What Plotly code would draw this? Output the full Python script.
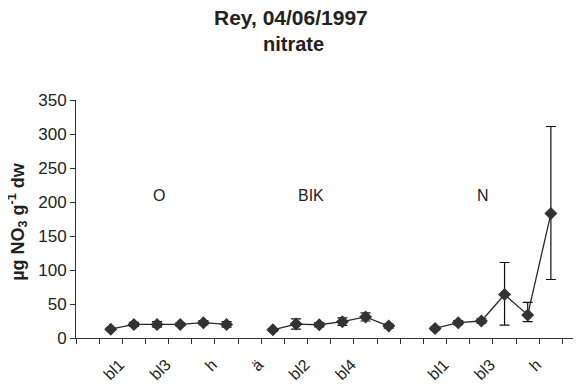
import plotly.graph_objects as go

# ---- data ----
groups = ["O", "BIK", "N"]
tick_labels = ["bl1", "bl3", "h", "ä", "bl2", "bl4", " ", "bl1", "bl3", "h"]

o_pos = [1, 2, 3, 4, 5, 6]
o_val = [13, 20, 20, 20, 22.5, 20]
o_err_plus = [2, 3, 4, 2, 3, 4]
o_err_minus = [2, 3, 4, 2, 3, 4]

bik_pos = [8, 9, 10, 11, 12, 13]
bik_val = [12, 20.5, 19.5, 24, 31, 17.5]
bik_err_plus = [2, 7.5, 3, 5.5, 6, 3]
bik_err_minus = [2, 7.5, 3, 5.5, 6, 3]

n_pos = [15, 16, 17, 18, 19, 20]
n_val = [14, 22.5, 25, 64, 34, 183]
n_err_plus = [2, 3, 3, 47, 18.5, 128]
n_err_minus = [2, 3, 3, 45, 10, 97]

n_categories = 22

FONT = "Arial, Liberation Sans, sans-serif"
DARK = "#2a2a2a"

fig = go.Figure()
for pos, val, ep, em in [
    (o_pos, o_val, o_err_plus, o_err_minus),
    (bik_pos, bik_val, bik_err_plus, bik_err_minus),
    (n_pos, n_val, n_err_plus, n_err_minus),
]:
    fig.add_trace(go.Scatter(
        x=pos, y=val, mode="lines+markers",
        line=dict(color=DARK, width=1.3),
        marker=dict(symbol="diamond", size=10, color="#333333"),
        error_y=dict(type="data", symmetric=False, array=ep, arrayminus=em,
                     color="#111111", thickness=1.2, width=5),
        showlegend=False,
    ))

label_vals = list(range(1, n_categories, 2))[:len(tick_labels)]
boundaries = [i - 0.5 for i in range(n_categories + 1)]

# page body has an 8px default margin; margins compensate for it
fig.update_layout(
    width=581, height=385,
    margin=dict(l=68, r=8, t=92, b=55, autoexpand=False),
    paper_bgcolor="white", plot_bgcolor="white",
    font=dict(family=FONT, size=16, color="#222"),
    xaxis=dict(
        range=[-0.5, 21.3], showline=True, linecolor="#333", linewidth=1,
        showgrid=False, zeroline=False, automargin=False,
        tickmode="array", tickvals=label_vals, ticktext=tick_labels,
        ticks="", tickangle=-45, tickfont=dict(size=16),
        ticklabelstandoff=10, ticklabelshift=9,
        minor=dict(tickmode="array", tickvals=boundaries, ticks="outside",
                   ticklen=5, tickcolor="#333", showgrid=False),
    ),
    yaxis=dict(
        range=[0, 350], dtick=50, showline=True, linecolor="#333", linewidth=1,
        showgrid=False, zeroline=False, ticks="outside", ticklen=5,
        automargin=False, tickcolor="#333", tickfont=dict(size=17),
    ),
    annotations=[
        dict(text="<b>Rey, 04/06/1997</b>", xref="paper", yref="paper",
             x=0.426, y=1.345, yanchor="middle", showarrow=False,
             font=dict(size=21)),
        dict(text="<b>nitrate</b>", xref="paper", yref="paper",
             x=0.43, y=1.237, yanchor="middle", showarrow=False,
             font=dict(size=20)),
        dict(text="<b>µg NO<sub>3</sub> g<sup>-1</sup> dw</b>", xref="paper",
             yref="paper", x=-0.116, y=0.49, xanchor="center", yanchor="middle",
             textangle=-90, showarrow=False, borderpad=0, font=dict(size=18)),
        dict(text=groups[0], x=3.1, y=209, showarrow=False, font=dict(size=16)),
        dict(text=groups[1], x=9.65, y=209, showarrow=False, font=dict(size=16)),
        dict(text=groups[2], x=17.07, y=209, showarrow=False, font=dict(size=16)),
    ],
)

fig.write_html("out.html")
